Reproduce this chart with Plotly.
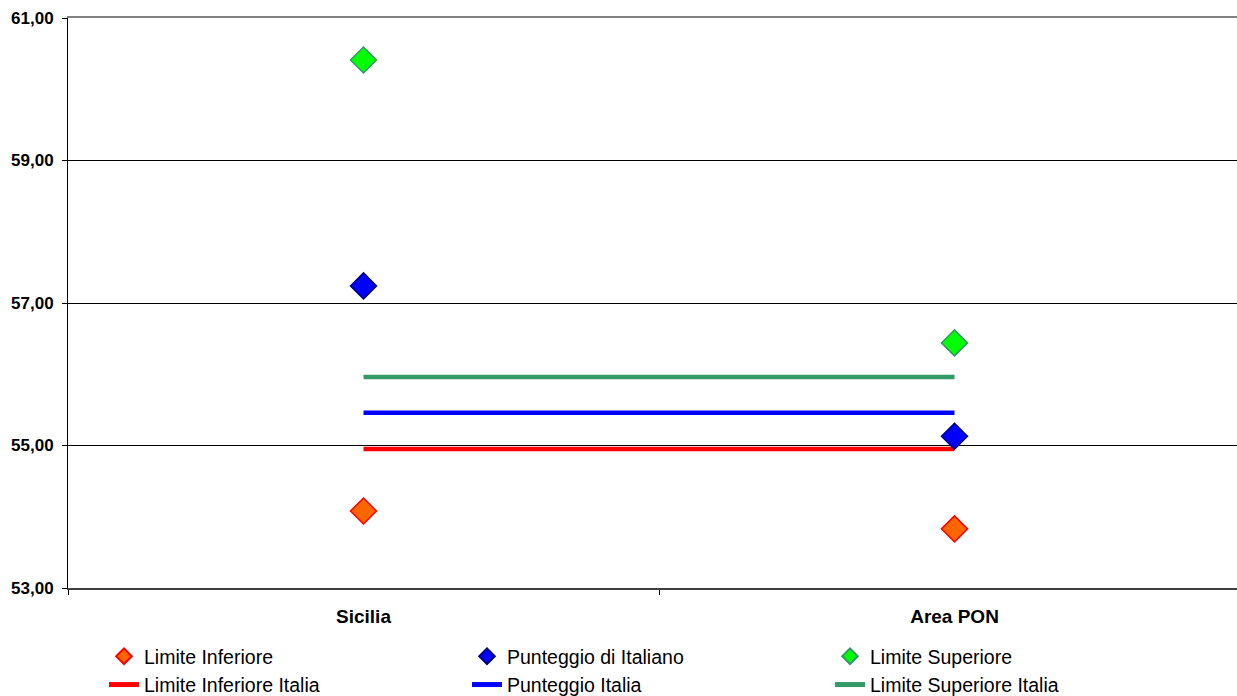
import plotly.graph_objects as go

categories = ["Sicilia", "Area PON"]
limite_inferiore = [54.08, 53.83]
punteggio_italiano = [57.24, 55.13]
limite_superiore = [60.41, 56.44]
limite_inferiore_italia = [54.95, 54.95]
punteggio_italia = [55.46, 55.46]
limite_superiore_italia = [55.96, 55.96]
y_ticks = [53, 55, 57, 59, 61]
y_ticklabels = ["53,00", "55,00", "57,00", "59,00", "61,00"]

fig = go.Figure()

def line_trace(name, vals, color):
    return go.Scatter(x=categories, y=vals, name=name, mode="lines",
                      line=dict(color=color, width=4.5), hoverinfo="y")

def marker_trace(name, vals, fill, edge):
    return go.Scatter(x=categories, y=vals, name=name, mode="markers",
                      marker=dict(symbol="diamond", size=20, color=fill,
                                  line=dict(color=edge, width=1.5)))

fig.add_trace(line_trace("Limite Inferiore Italia", limite_inferiore_italia, "#FF0000"))
fig.add_trace(line_trace("Punteggio Italia", punteggio_italia, "#0000FF"))
fig.add_trace(line_trace("Limite Superiore Italia", limite_superiore_italia, "#339966"))
fig.add_trace(marker_trace("Limite Inferiore", limite_inferiore, "#FF6600", "#FF0000"))
fig.add_trace(marker_trace("Punteggio di Italiano", punteggio_italiano, "#0000FF", "#000080"))
fig.add_trace(marker_trace("Limite Superiore", limite_superiore, "#00FF00", "#339966"))

order = {"Limite Inferiore": 1, "Punteggio di Italiano": 2, "Limite Superiore": 3,
         "Limite Inferiore Italia": 4, "Punteggio Italia": 5, "Limite Superiore Italia": 6}
for tr in fig.data:
    tr.legendrank = order[tr.name]

xtickfont = dict(size=19, family="Liberation Sans, Arial", weight="bold", color="black")
ytickfont = dict(size=17, family="Liberation Sans, Arial", weight="bold", color="black")

fig.update_layout(
    width=1237, height=696,
    margin=dict(l=68, r=0, t=18, b=108, autoexpand=False),
    paper_bgcolor="white", plot_bgcolor="white",
    font=dict(family="Liberation Sans, Arial, sans-serif", color="black"),
    showlegend=True,
    legend=dict(orientation="h", x=0.0308, y=-0.0860, xanchor="left", yanchor="top",
                font=dict(size=19.5), entrywidth=318, itemsizing="constant",
                traceorder="normal"),
    xaxis=dict(type="category", range=[-0.5, 1.478], tickson="boundaries",
               ticks="outside", ticklen=5, tickcolor="black", automargin=False,
               ticklabelstandoff=10,
               showline=True, linecolor="#404040", linewidth=2,
               showgrid=False, tickfont=xtickfont),
    xaxis2=dict(overlaying="x", side="top", matches="x", showline=True,
                linecolor="#808080", linewidth=2, showticklabels=False,
                ticks="", showgrid=False, automargin=False),
    yaxis=dict(range=[53, 61], tickvals=y_ticks, ticktext=y_ticklabels,
               ticks="outside", ticklen=5, tickcolor="black", automargin=False,
               ticklabelstandoff=5,
               showline=True, linecolor="black", linewidth=1,
               showgrid=True, gridcolor="black", gridwidth=1, zeroline=False,
               tickfont=ytickfont),
)
fig.add_trace(go.Scatter(x=categories, y=[None, None], xaxis="x2", showlegend=False,
                         hoverinfo="skip"))

fig.write_html("out.html", config={"displayModeBar": False},
               post_script="document.body.style.margin='0';document.body.style.overflow='hidden';")
